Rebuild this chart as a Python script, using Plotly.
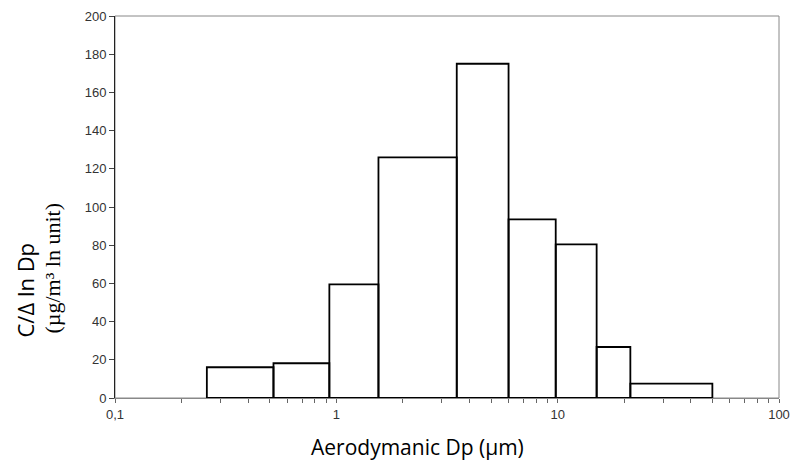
import plotly.graph_objects as go

# bin edges (µm) and concentration per ln-unit
bin_left = [0.26, 0.52, 0.93, 1.55, 3.5, 6.0, 9.8, 15.0, 21.3]
bin_right = [0.52, 0.93, 1.55, 3.5, 6.0, 9.8, 15.0, 21.3, 50.0]
values = [16.1, 18.2, 59.5, 126, 175, 93.5, 80.4, 26.7, 7.5]

y_ticks = list(range(0, 201, 20))
x_tickvals = [0.1, 1, 10, 100]
x_ticktext = ["0,1", "1", "10", "100"]
minor_vals = [m * d for d in (0.1, 1, 10) for m in range(2, 10)]

xs, ys = [], []
for l, r, v in zip(bin_left, bin_right, values):
    xs += [l, l, r, r, l, None]
    ys += [0, v, v, 0, 0, None]

fig = go.Figure()
fig.add_trace(go.Scatter(x=xs, y=ys, mode="lines",
                         line=dict(color="black", width=1.8),
                         fill="toself", fillcolor="white",
                         hoverinfo="skip", showlegend=False))

tickfont = dict(family="Liberation Sans, Arial", size=13, color="#333")
L, R, T, B = 115, 779, 16, 398
fig.update_layout(
    template="none",
    width=791, height=464,
    margin=dict(l=L, r=791 - R, t=T, b=464 - B, autoexpand=False),
    plot_bgcolor="white", paper_bgcolor="white",
    xaxis=dict(type="log", range=[-1, 2], tickvals=x_tickvals, ticktext=x_ticktext,
               automargin=False,
               ticks="outside", ticklen=4, tickcolor="#666", showgrid=False,
               zeroline=False, showline=True, linecolor="#888", linewidth=1,
               tickfont=tickfont,
               minor=dict(tickvals=minor_vals, ticks="outside", ticklen=4,
                          tickcolor="#666", showgrid=False)),
    yaxis=dict(range=[0, 200], tickvals=y_ticks, ticks="outside", ticklen=5,
               automargin=False,
               tickcolor="#444", showgrid=False, zeroline=False, showline=True,
               linecolor="#222", linewidth=1, tickfont=tickfont),
    shapes=[dict(type="rect", xref="paper", yref="paper", x0=0, x1=1, y0=0, y1=1,
                 line=dict(color="#888", width=1), layer="below")],
    annotations=[
        dict(text="Aerodymanic Dp (µm)", xref="paper", yref="paper",
             x=(417.5 - L) / (R - L), y=-(447 - B) / (B - T),
             showarrow=False, xanchor="center", yanchor="middle",
             font=dict(family="Open Sans", size=21, color="black")),
        dict(text="C/Δ ln Dp", xref="paper", yref="paper", textangle=-90,
             x=-(L - 24) / (R - L), y=(B - 289.5) / (B - T),
             showarrow=False, xanchor="center", yanchor="middle",
             font=dict(family="Open Sans", size=22, color="black")),
        dict(text="(µg/m³ ln unit)", xref="paper", yref="paper", textangle=-90,
             x=-(L - 52) / (R - L), y=(B - 268.5) / (B - T),
             showarrow=False, xanchor="center", yanchor="middle",
             font=dict(family="Liberation Serif", size=22, color="black")),
    ],
)
fig.write_html("out.html", config={"displayModeBar": False},
               post_script="document.body.style.margin='0';document.body.style.padding='0';")
